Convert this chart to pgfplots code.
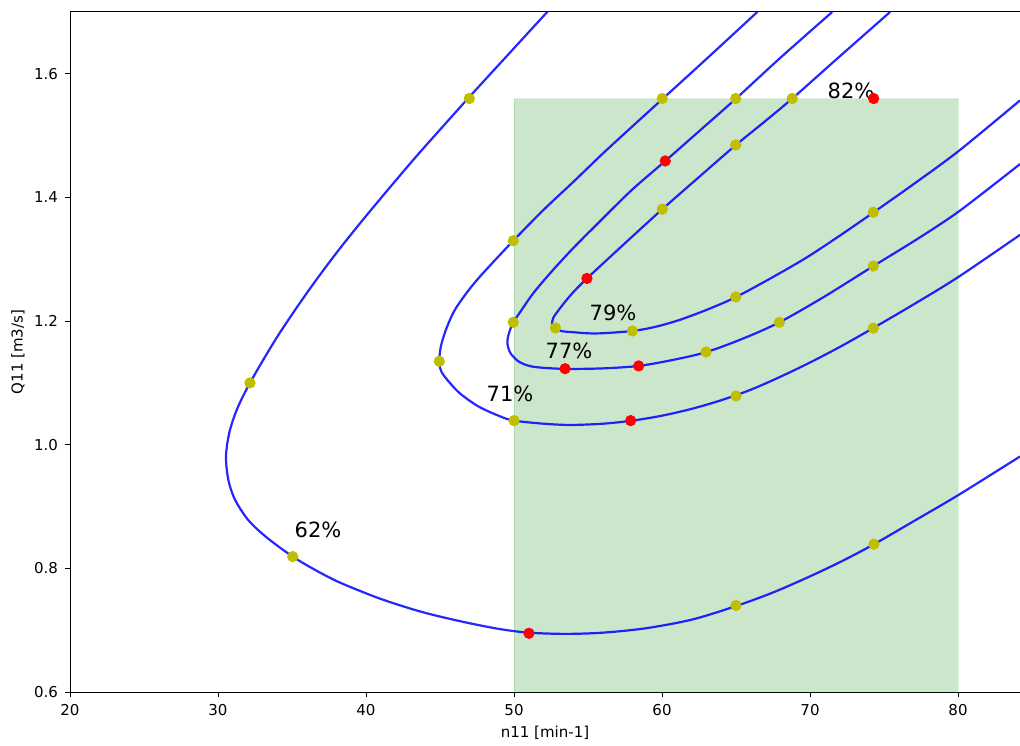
\documentclass[border=0pt]{standalone}
\usepackage{fontspec}
\setmainfont{DejaVu Sans}
\usepackage{pgfplots}
\pgfplotsset{compat=1.18}
\definecolor{dotyellow}{RGB}{191,191,0}
\definecolor{dotred}{RGB}{255,0,0}
\definecolor{mgreen}{RGB}{0,128,0}
\begin{document}
\begin{tikzpicture}
\begin{axis}[
  scale only axis, width=475pt, height=340pt,
  xmin=20, xmax=84.19, ymin=0.6, ymax=1.7,
  xtick={20,30,40,50,60,70,80},
  ytick={0.6,0.8,1.0,1.2,1.4,1.6},
  yticklabel style={/pgf/number format/fixed, /pgf/number format/fixed zerofill, /pgf/number format/precision=1},
  /pgf/number format/assume math mode=true,
  tick pos=left, tick align=outside, major tick length=2.5pt,
  tick style={black, line width=0.4pt},
  ticklabel style={font=\fontsize{7.5}{9}\selectfont},
  label style={font=\fontsize{7.5}{9}\selectfont},
  xlabel={n11 [min-1]}, ylabel={Q11 [m3/s]},
  xlabel style={at={(axis description cs:0.5,0)}, anchor=center, yshift=-20.5pt},
  ylabel style={at={([xshift=-26pt]axis description cs:0,0.5)}, anchor=center},
  axis line style={line width=0.5pt},
  curve/.style={smooth, tension=0.5, color=blue, opacity=0.85, line width=1.1pt},
]
\coordinate (sw) at (rel axis cs:0,0);
\coordinate (ne) at (rel axis cs:1,1);
% green region
\addplot[fill=mgreen, fill opacity=0.2, draw=mgreen, draw opacity=0.12] coordinates {(50,0.6) (80,0.6) (80,1.56) (50,1.56)} -- cycle;
% 62%
\addplot[curve] coordinates {
(52.32,1.702) (49.60,1.631) (46.98,1.5625) (45.20,1.515) (43.42,1.467) (41.50,1.413) (39.59,1.358) (37.80,1.304) (35.99,1.245) (34.00,1.1745) (32.16,1.100) (31.26,1.056) (30.76,1.019) (30.54,0.981) (30.70,0.943) (31.15,0.911) (32.05,0.878) (33.29,0.850) (35.05,0.819) (36.60,0.797) (38.24,0.777) (40.95,0.751) (43.70,0.730) (46.46,0.714) (49.00,0.702) (51.01,0.696) (53.50,0.694) (56.00,0.696) (58.87,0.703) (62.00,0.717) (65.00,0.739) (67.50,0.761) (69.90,0.786) (72.10,0.811) (74.32,0.839) (77.20,0.879) (80.05,0.919) (84.19,0.981)};
% 71%
\addplot[curve] coordinates {
(66.44,1.700) (63.00,1.624) (60.02,1.559) (58.00,1.515) (56.00,1.471) (54.00,1.425) (52.00,1.380) (49.95,1.330) (48.00,1.280) (47.00,1.252) (46.00,1.218) (45.40,1.186) (45.05,1.158) (44.95,1.133) (45.10,1.118) (45.56,1.103) (46.35,1.083) (47.59,1.062) (49.05,1.046) (50.00,1.039) (52.00,1.034) (53.80,1.032) (56.00,1.034) (58.00,1.039) (60.00,1.047) (62.00,1.058) (64.00,1.072) (66.00,1.089) (68.00,1.110) (70.00,1.133) (72.00,1.158) (74.00,1.185) (77.00,1.227) (80.00,1.271) (84.19,1.3395)};
% 77%
\addplot[curve] coordinates {
(71.50,1.700) (68.00,1.626) (64.98,1.5595) (62.50,1.507) (60.22,1.459) (58.00,1.413) (56.00,1.366) (54.00,1.318) (52.50,1.279) (51.30,1.245) (50.40,1.214) (49.95,1.198) (49.68,1.182) (49.55,1.166) (49.72,1.150) (50.18,1.137) (50.70,1.130) (51.53,1.1254) (53.45,1.1227) (56.00,1.1235) (58.42,1.1275) (60.70,1.137) (62.97,1.1497) (65.40,1.171) (67.93,1.198) (71.00,1.240) (74.28,1.289) (77.20,1.332) (80.09,1.378) (84.19,1.454)};
% 79%
\addplot[curve] coordinates {
(75.41,1.700) (72.00,1.628) (68.80,1.560) (66.90,1.522) (64.98,1.4846) (62.50,1.433) (60.02,1.381) (57.50,1.326) (54.93,1.269) (53.90,1.244) (53.15,1.222) (52.65,1.205) (52.60,1.193) (53.11,1.1845) (54.00,1.182) (55.58,1.180) (58.00,1.184) (59.60,1.191) (61.20,1.202) (63.10,1.219) (64.98,1.2387) (67.40,1.270) (69.78,1.303) (72.00,1.338) (74.28,1.3756) (77.20,1.425) (80.09,1.476) (84.19,1.557)};
% yellow points
\addplot[only marks, mark=*, mark size=2.6pt, color=dotyellow] coordinates {
(46.98,1.56) (60.02,1.56) (64.98,1.56) (68.8,1.56) (32.16,1.10) (35.05,0.819) (49.95,1.33) (49.95,1.198) (44.95,1.135) (50.0,1.039) (52.8,1.189) (58.0,1.184) (60.02,1.381) (64.98,1.485) (64.98,1.239) (62.97,1.15) (67.93,1.198) (65.0,1.079) (74.28,1.376) (74.28,1.289) (74.28,1.1885) (65.0,0.74) (74.32,0.839)};
% red points
\addplot[only marks, mark=*, mark size=2.6pt, color=dotred] coordinates {
(60.22,1.459) (54.93,1.269) (53.45,1.123) (58.42,1.1275) (57.88,1.039) (51.01,0.695) (74.3,1.56)};
\node[font=\fontsize{10.5}{12}\selectfont] at (axis cs:36.76,0.862) {62\%};
\node[font=\fontsize{10.5}{12}\selectfont] at (axis cs:49.73,1.082) {71\%};
\node[font=\fontsize{10.5}{12}\selectfont] at (axis cs:53.72,1.152) {77\%};
\node[font=\fontsize{10.5}{12}\selectfont] at (axis cs:56.69,1.213) {79\%};
\node[font=\fontsize{10.5}{12}\selectfont] at (axis cs:72.77,1.5725) {82\%};
\end{axis}
\pgfresetboundingbox
\path ([shift={(-35pt,-26.5pt)}]sw) rectangle ([shift={(0pt,6pt)}]ne);
\end{tikzpicture}
\end{document}
